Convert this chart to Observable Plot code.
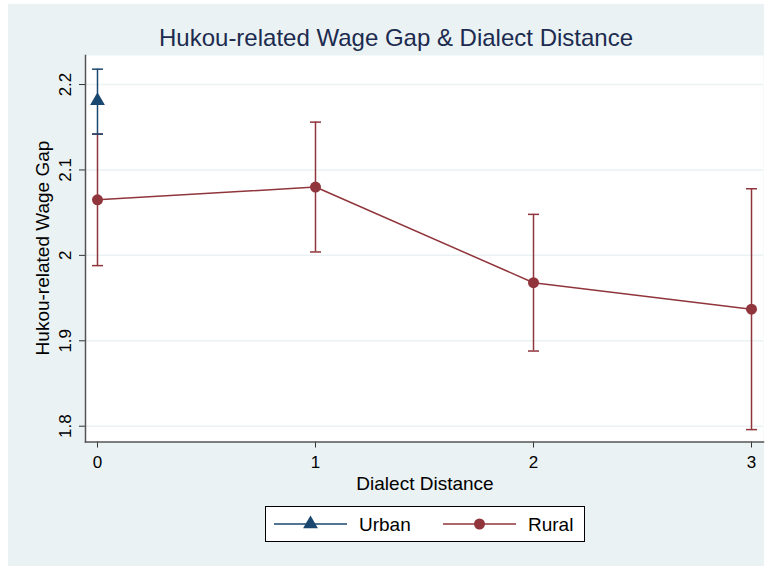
<!DOCTYPE html>
<html>
<head>
<meta charset="utf-8">
<script src="https://cdn.jsdelivr.net/npm/d3@7"></script>
<script src="https://cdn.jsdelivr.net/npm/@observablehq/plot@0.6"></script>
<style>
  html, body { margin: 0; padding: 0; background: #ffffff; }
  #wrap { position: relative; width: 771px; height: 566px; background: #ffffff; overflow: hidden;
          font-family: "Liberation Sans", Arial, Helvetica, sans-serif; }
  #bg { position: absolute; left: 8px; top: 4px; width: 756px; height: 562px; background: #eaf2f3; }
  #chart { position: absolute; left: 0; top: 0; }
  .lbl { position: absolute; white-space: nowrap; line-height: 1; }
  #title { left: 396px; top: 26px; font-size: 24px; color: #1c2b4f; transform: translateX(-50%); }
  #xlab { left: 425px; top: 474px; font-size: 19px; color: #000; transform: translateX(-50%); }
  #ylab { left: 42px; top: 248px; font-size: 19px; color: #000; transform: translate(-50%, -50%) rotate(-90deg); }
  #legend { position: absolute; left: 265px; top: 506px; width: 318px; height: 34px; background: #fff;
            border: 1px solid #000; }
  #legend svg { position: absolute; left: 0; top: 0; }
  .leglab { position: absolute; top: 8px; font-size: 19px; line-height: 1; }
</style>
</head>
<body>
<div id="wrap">
  <div id="bg"></div>
  <div id="chart"></div>
  <div id="title" class="lbl"></div>
  <div id="xlab" class="lbl"></div>
  <div id="ylab" class="lbl"></div>
  <div id="legend"></div>
</div>
<script>
// ---- data ----
const titleText = "Hukou-related Wage Gap & Dialect Distance";
const xLabel = "Dialect Distance";
const yLabel = "Hukou-related Wage Gap";
const seriesNames = ["Urban", "Rural"];
const seriesColors = ["#1a476f", "#90353b"];

const urbanX = [0];
const urbanY = [2.181];
const urbanLo = [2.142];
const urbanHi = [2.218];

const ruralX = [0, 1, 2, 3];
const ruralY = [2.065, 2.080, 1.968, 1.937];
const ruralLo = [1.988, 2.004, 1.888, 1.796];
const ruralHi = [2.142, 2.156, 2.048, 2.078];

const xTicks = [0, 1, 2, 3];
const yTicks = [1.8, 1.9, 2.0, 2.1, 2.2];
const yTickLabels = ["1.8", "1.9", "2", "2.1", "2.2"];

// ---- build ----
const urban = urbanX.map((x, i) => ({x, y: urbanY[i], lo: urbanLo[i], hi: urbanHi[i]}));
const rural = ruralX.map((x, i) => ({x, y: ruralY[i], lo: ruralLo[i], hi: ruralHi[i]}));

const capSymbol = {
  draw(context, size) {
    const w = Math.sqrt(size / Math.PI);
    context.moveTo(-w, 0);
    context.lineTo(w, 0);
  }
};

const navy = seriesColors[0], maroon = seriesColors[1];
const fontFam = '"Liberation Sans", Arial, Helvetica, sans-serif';

const chart = Plot.plot({
  width: 771,
  height: 500,
  marginLeft: 85,
  marginRight: 8,
  marginTop: 55,
  marginBottom: 58.5,
  style: {background: "transparent", fontFamily: fontFam, color: "#000"},
  x: {domain: [-0.055, 3.055]},
  y: {domain: [1.7815, 2.234]},
  marks: [
    Plot.frame({fill: "#ffffff", stroke: "none"}),
    Plot.gridY(yTicks, {stroke: "#eaf2f3", strokeOpacity: 1, strokeWidth: 1.5}),
    Plot.axisY({ticks: yTicks, tickFormat: d => yTickLabels[yTicks.indexOf(d)], tickRotate: -90,
                tickSize: 6, tickPadding: 9, fontSize: 17, label: null, stroke: "#333", strokeWidth: 1}),
    Plot.axisX({ticks: xTicks, tickFormat: d => String(d), tickSize: 6, tickPadding: 8,
                fontSize: 17, label: null, stroke: "#333", strokeWidth: 1}),
    Plot.frame({anchor: "left", stroke: "#555", strokeWidth: 1.5}),
    Plot.frame({anchor: "bottom", stroke: "#555", strokeWidth: 1.5}),
    // Rural
    Plot.line(rural, {x: "x", y: "y", stroke: maroon, strokeWidth: 1.5}),
    Plot.ruleX(rural, {x: "x", y1: "lo", y2: "hi", stroke: maroon, strokeWidth: 1.5}),
    Plot.dot(rural, {x: "x", y: "lo", symbol: capSymbol, r: 5.5, stroke: maroon, strokeWidth: 1.5}),
    Plot.dot(rural, {x: "x", y: "hi", symbol: capSymbol, r: 5.5, stroke: maroon, strokeWidth: 1.5}),
    Plot.dot(rural, {x: "x", y: "y", symbol: "circle", r: 5.5, fill: maroon, stroke: "none"}),
    // Urban
    Plot.ruleX(urban, {x: "x", y1: "lo", y2: "hi", stroke: navy, strokeWidth: 1.5}),
    Plot.dot(urban, {x: "x", y: "lo", symbol: capSymbol, r: 5.5, stroke: navy, strokeWidth: 1.5}),
    Plot.dot(urban, {x: "x", y: "hi", symbol: capSymbol, r: 5.5, stroke: navy, strokeWidth: 1.5}),
    Plot.dot(urban, {x: "x", y: "y", symbol: "triangle", r: 5.5, fill: navy, stroke: "none"})
  ]
});
document.getElementById("chart").appendChild(chart);

document.getElementById("title").textContent = titleText;
document.getElementById("xlab").textContent = xLabel;
document.getElementById("ylab").textContent = yLabel;

// ---- legend ----
const legend = document.getElementById("legend");
const legSvg = d3.create("svg").attr("width", 318).attr("height", 34);
const legItems = [
  {name: seriesNames[0], color: navy, sym: d3.symbolTriangle, x0: 8, textX: 93},
  {name: seriesNames[1], color: maroon, sym: d3.symbolCircle, x0: 177, textX: 262}
];
legItems.forEach(it => {
  const g = legSvg.append("g");
  g.append("line").attr("x1", it.x0).attr("x2", it.x0 + 73).attr("y1", 17).attr("y2", 17)
    .attr("stroke", it.color).attr("stroke-width", 1.5);
  g.append("path").attr("d", d3.symbol(it.sym, Math.PI * 5.5 * 5.5)())
    .attr("transform", `translate(${it.x0 + 36.5},17)`).attr("fill", it.color);
  const t = document.createElement("div");
  t.className = "leglab";
  t.style.left = it.textX + "px";
  t.textContent = it.name;
  legend.appendChild(t);
});
legend.insertBefore(legSvg.node(), legend.firstChild);
</script>
</body>
</html>
